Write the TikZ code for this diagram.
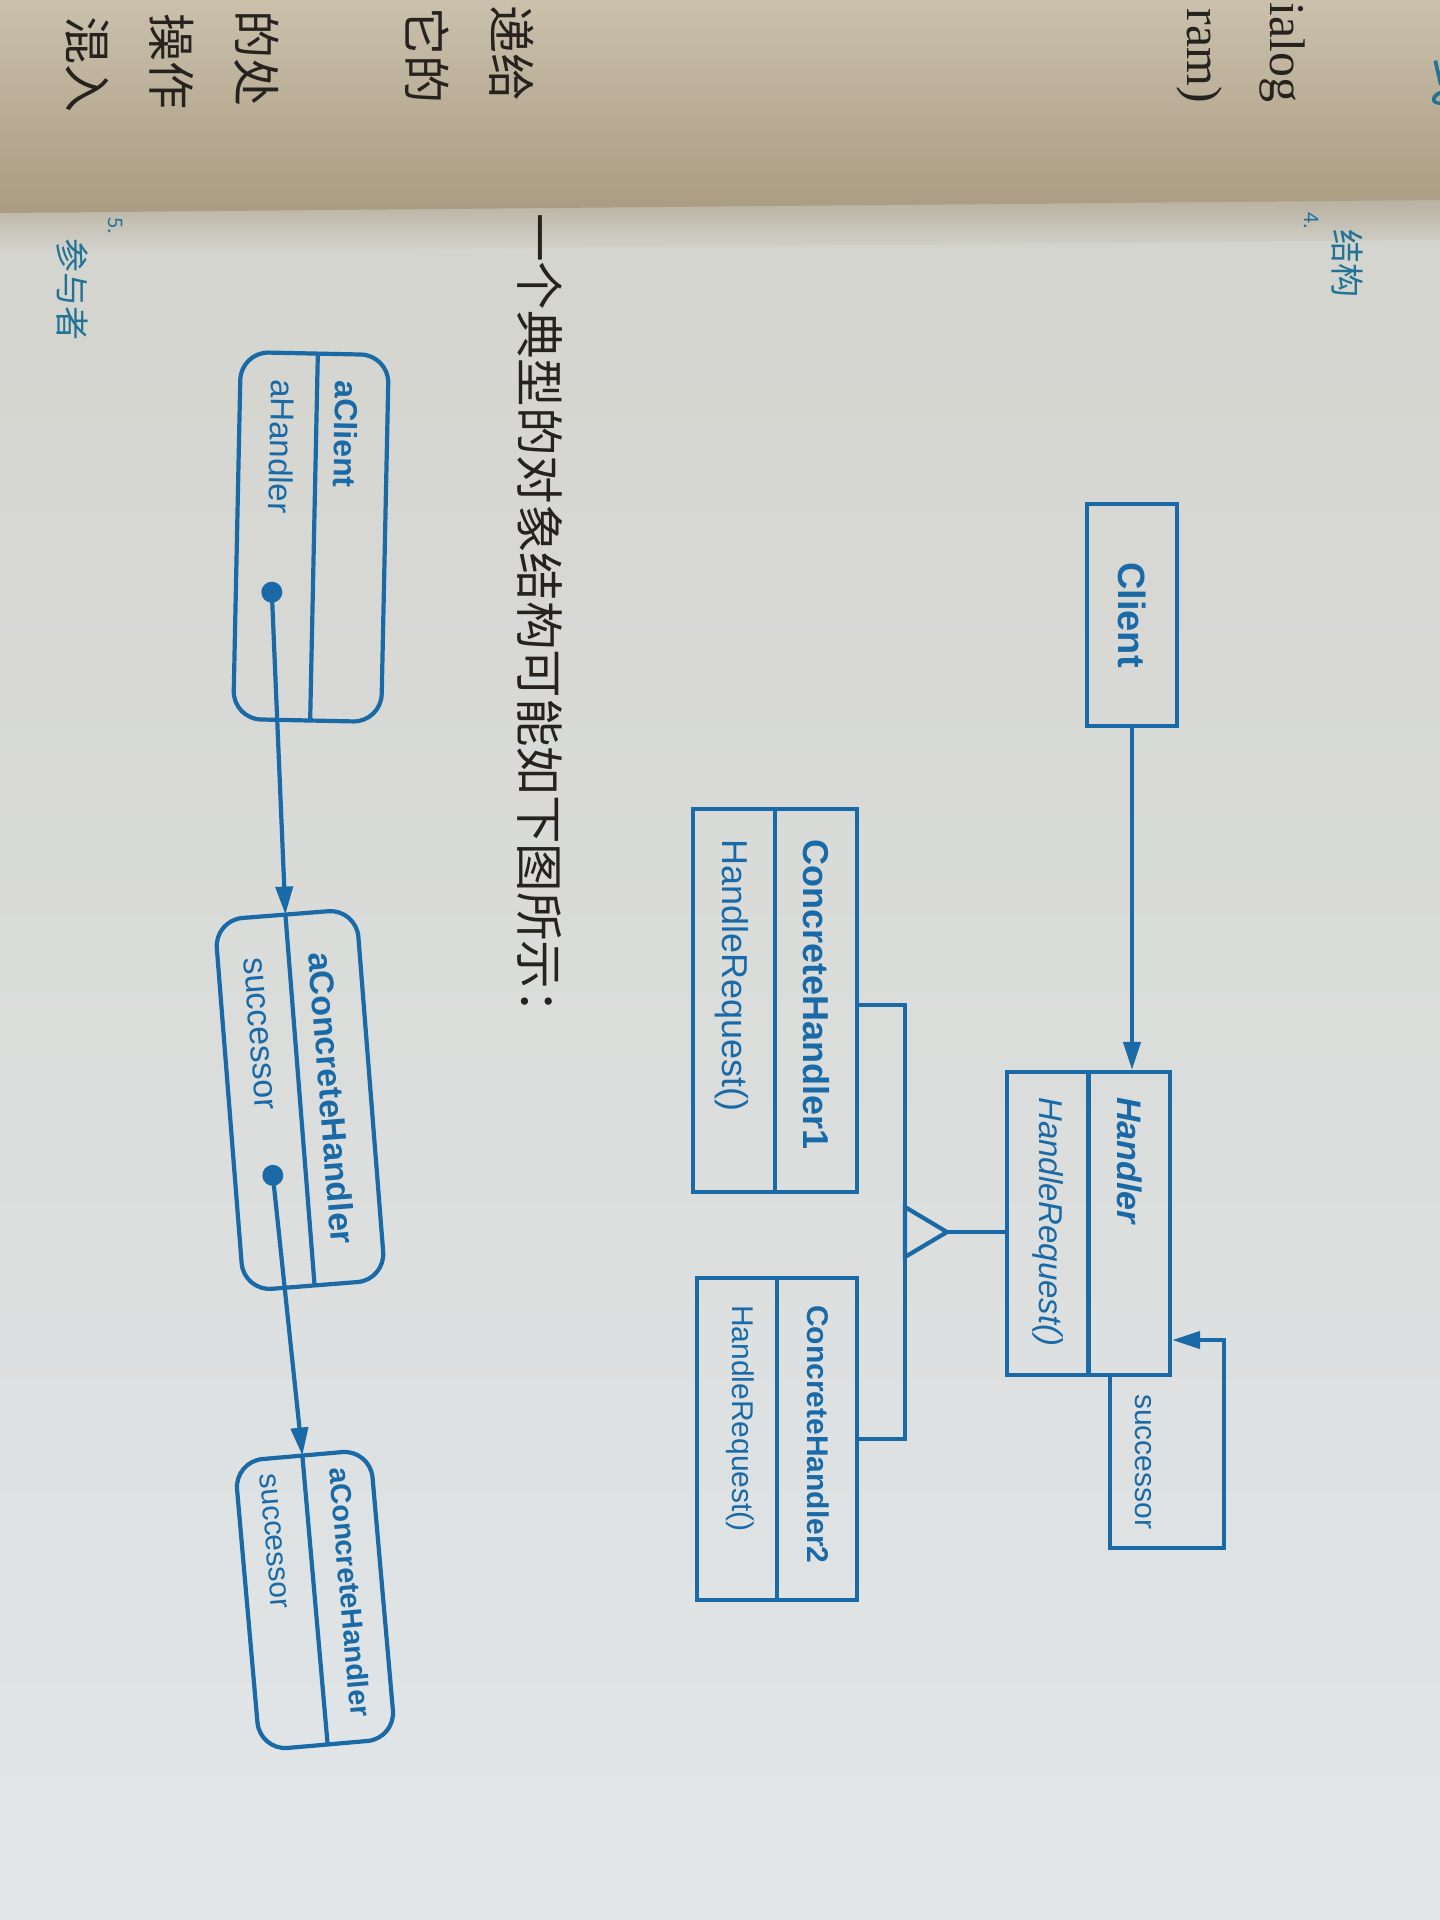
\documentclass[tikz,border=0pt]{standalone}
\usepackage{fontspec}
\setmainfont{Liberation Sans}
\newfontfamily\cjk{Noto Sans CJK SC}
\newfontfamily\bookserif{Liberation Serif}
\usetikzlibrary{arrows.meta,calc}
\definecolor{ink}{RGB}{25,106,166}
\definecolor{hand}{RGB}{35,115,150}
\definecolor{printk}{RGB}{38,34,30}
\definecolor{lowtop}{RGB}{212,212,206}
\definecolor{lowbot}{RGB}{226,230,233}
\definecolor{foldsh}{RGB}{185,177,160}
\definecolor{uptop}{RGB}{202,192,172}
\definecolor{upbot}{RGB}{170,156,130}
\newcommand{\pxsize}[1]{\fontsize{#1pt}{#1pt}\selectfont}
\begin{document}
\begin{tikzpicture}[x=1pt,y=-1pt,
  box/.style={draw=ink, line width=4.2pt, inner sep=0pt},
  obox/.style={box, rounded corners=28pt, transform shape},
  conn/.style={draw=ink, line width=4.2pt},
  headed/.style={-{Triangle[length=28pt,width=17pt]}},
  vt/.style={text=ink, inner sep=0pt, rotate=-90, anchor=west},
  ovt/.style={vt, transform shape},
  odot/.style={circle, fill=ink, inner sep=0pt, minimum size=21pt, transform shape},
  prt/.style={text=printk, inner sep=0pt, rotate=-90},
  hw/.style={text=hand, inner sep=0pt, rotate=-90}]
\useasboundingbox (0,0) rectangle (1440,1920);
\clip (0,0) rectangle (1440,1920);
% paper
\shade[top color=lowtop, bottom color=lowbot] (0,200) rectangle (1440,1920);
\shade[top color=foldsh, bottom color=lowtop] (0,212) -- (1440,199) -- (1440,240) -- (0,253) -- cycle;
\shade[top color=uptop, bottom color=upbot] (0,0) -- (1440,0) -- (1440,200) -- (0,213) -- cycle;
% previous page text
\node[prt, font=\cjk\pxsize{48}, anchor=east] (pa) at (512,102) {递给};
\node[prt, font=\cjk\pxsize{48}, anchor=east] (pb) at (427,104) {它的};
\node[prt, font=\cjk\pxsize{48}, anchor=east] (pc) at (257,107) {的处};
\node[prt, font=\cjk\pxsize{48}, anchor=east] (pd) at (172,110) {操作};
\node[prt, font=\cjk\pxsize{48}, anchor=east] (pe) at (87,113) {混入};
\node[prt, font=\bookserif\pxsize{50}, anchor=base east] (pf) at (1270,103) {ialog};
\node[prt, font=\bookserif\pxsize{50}, anchor=base east] (pg) at (1187,103) {ram)};
\node[hw, font=\cjk\pxsize{50}] (ph) at (1455,82) {式};
% handwriting
\node[hw, font=\cjk\pxsize{20}] (h4) at (1311,221) {4.};
\node[hw, font=\cjk\pxsize{34}, anchor=west] (h4b) at (1347,229) {结构};
\node[hw, font=\cjk\pxsize{20}] (h5) at (115,226) {5.};
\node[hw, font=\cjk\pxsize{34}, anchor=west] (h5b) at (72,238) {参与者};
% intro sentence
\node[prt, font=\cjk\pxsize{48.5}, anchor=west] (intro) at (540,213) {一个典型的对象结构可能如下图所示：};

% ---------- class diagram ----------
\node[box, minimum width=90pt, minimum height=222pt] (client) at (1132,615) {};
\node[vt, anchor=center, font=\bfseries\pxsize{38}] (clientname) at (client) {Client};

\node[box, minimum width=163pt, minimum height=303pt] (handler) at (1088.5,1223.5) {};
\draw[conn] (handler.north) -- (handler.south);
\node[vt, font=\bfseries\itshape\pxsize{34}] (hname) at (1130,1097) {Handler};
\node[vt, font=\itshape\pxsize{33}] (hop) at (1048,1097) {HandleRequest()};

\draw[conn, headed] (client.south) -- (client.south |- handler.north);

\coordinate (loopa) at (1110,1548);
\coordinate (loopb) at (1224,1548);
\coordinate (loopc) at (1224,1340);
\draw[conn, headed] (handler.south -| loopa) -- (loopa) -- (loopb) -- (loopc) -- (loopc -| handler.east);
\node[vt, font=\pxsize{30}] (succ) at (1143,1394) {successor};

\node[box, minimum width=164pt, minimum height=383pt] (ch1) at (775,1000.5) {};
\draw[conn] (ch1.north) -- (ch1.south);
\node[vt, font=\bfseries\pxsize{36}] (ch1name) at (816,839) {ConcreteHandler1};
\node[vt, font=\pxsize{36}] (ch1op) at (732,839) {HandleRequest()};

\node[box, minimum width=160pt, minimum height=322pt] (ch2) at (777,1439) {};
\draw[conn] (ch2.north) -- (ch2.south);
\node[vt, font=\bfseries\pxsize{30}] (ch2name) at (818,1305) {ConcreteHandler2};
\node[vt, font=\pxsize{30}] (ch2op) at (740,1305) {HandleRequest()};

\coordinate (apex) at (947,1232);
\draw[conn] (apex -| handler.west) -- (apex);
\draw[conn, line join=miter] (apex) -- ++(-42,-25) -- ++(0,50) -- cycle;
\coordinate (bus1) at (905,1005);
\coordinate (bus2) at (905,1439);
\draw[conn] (ch1.east |- bus1) -- (bus1) -- (bus2) -- (ch2.east |- bus2);

% ---------- object diagram ----------
\begin{scope}[shift={(311,537)}, rotate=-1.2]
  \node[obox, minimum width=148pt, minimum height=367pt] (acl) at (0,0) {};
  \draw[conn] (3,-183.5) -- (3,183.5);
  \node[ovt, font=\bfseries\pxsize{32}] (aclname) at (33,-157) {aClient};
  \node[ovt, font=\pxsize{33}] (aclatt) at (-31,-157) {aHandler};
  \node[odot] (dot1) at (-38,56) {};
\end{scope}

\begin{scope}[shift={(300,1100)}, rotate=4.5]
  \node[obox, minimum width=142pt, minimum height=372pt] (ach1) at (0,0) {};
  \draw[conn] (0,-186) -- (0,186);
  \coordinate (ach1in) at (0,-186);
  \node[ovt, font=\bfseries\pxsize{34}] (ach1name) at (32,-146) {aConcreteHandler};
  \node[ovt, font=\pxsize{34}] (ach1att) at (-36,-146) {successor};
  \node[odot] (dot2) at (-33,73) {};
\end{scope}

\begin{scope}[shift={(315,1600)}, rotate=5]
  \node[obox, minimum width=136pt, minimum height=290pt] (ach2) at (0,0) {};
  \draw[conn] (0,-145) -- (0,145);
  \coordinate (ach2in) at (0,-145);
  \node[ovt, font=\bfseries\pxsize{29}] (ach2name) at (36,-130) {aConcreteHandler};
  \node[ovt, font=\pxsize{30}] (ach2att) at (-36,-130) {successor};
\end{scope}

\draw[conn, headed] (dot1.center) -- (ach1in);
\draw[conn, headed] (dot2.center) -- (ach2in);
\end{tikzpicture}
\end{document}
